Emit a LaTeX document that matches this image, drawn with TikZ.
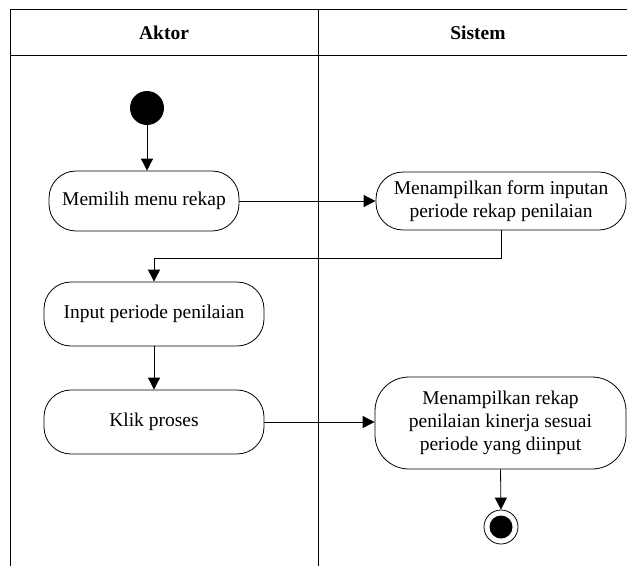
\documentclass[tikz,border=0pt]{standalone}
\usepackage{fontspec}
\setmainfont{Liberation Serif}
\usetikzlibrary{arrows.meta}
\begin{document}
\begin{tikzpicture}[x=1pt,y=-1pt,
  lane/.style={line width=0.9pt},
  act/.style={draw,line width=0.8pt,rounded corners=27pt,align=center,inner sep=0pt,
    font=\fontsize{19.5}{23}\selectfont},
  flow/.style={line width=0.8pt,-{Triangle[length=12pt,width=12pt]}},
  hdr/.style={font=\fontsize{19.5}{23}\selectfont\bfseries}]
\useasboundingbox (0,0) rectangle (627,566);
% swimlane frame
\draw[lane] (10,566) -- (10,9) -- (640,9);
\draw[lane] (10,55) -- (640,55);
\draw[lane] (318,9) -- (318,566);
\node[hdr] (hA) at (164,33) {Aktor};
\node[hdr] (hS) at (478,33) {Sistem};
% nodes
\node[circle,fill=black,minimum size=34pt,inner sep=0pt] (start) at (147,108) {};
\node[act,minimum width=190pt,minimum height=60pt] (mem) at (144,201) {Memilih menu rekap};
\node[act,minimum width=250pt,minimum height=58pt] (form) at (501,201) {Menampilkan form inputan\\periode rekap penilaian};
\node[act,minimum width=220pt,minimum height=64pt] (inp) at (154,314) {Input periode penilaian};
\node[act,minimum width=220pt,minimum height=64pt] (klik) at (154,422) {Klik proses};
\node[act,rounded corners=34pt,minimum width=251pt,minimum height=92pt] (rekap) at (500.5,423) {Menampilkan rekap\\penilaian kinerja sesuai\\periode yang diinput};
\node[circle,draw,line width=0.8pt,fill=white,minimum size=34pt,inner sep=0pt] (end) at (501,527) {};
\node[circle,fill=black,minimum size=23pt,inner sep=0pt] (endin) at (end.center) {};
\coordinate (bend) at (501,258);
% connectors
\draw[flow] (start.south) -- (start.south |- mem.north);
\draw[flow] (mem.east) -- (mem.east -| form.west);
\draw[flow] (form.south) -- (bend) -| (inp.north);
\draw[flow] (inp.south) -- (klik.north);
\draw[flow] (klik.east) -- (klik.east -| rekap.west);
\draw[flow] (rekap.south) -- (end.north);
\end{tikzpicture}
\end{document}
